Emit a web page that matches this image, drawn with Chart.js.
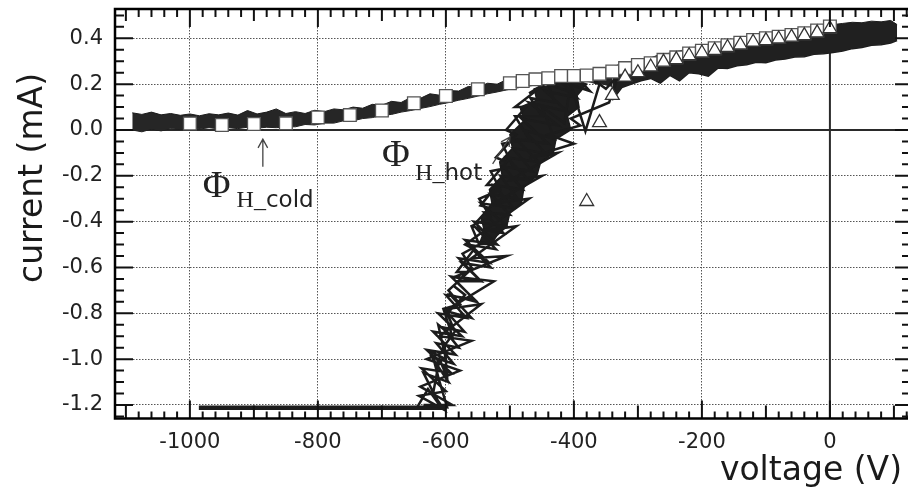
<!DOCTYPE html>
<html>
<head>
<meta charset="utf-8">
<script src="https://cdn.jsdelivr.net/npm/chart.js@4.4.1/dist/chart.umd.min.js"></script>
<style>
  html, body { margin: 0; padding: 0; background: #fff; }
  #wrap { width: 908px; height: 492px; }
</style>
</head>
<body>
<div id="wrap"><canvas id="chart" width="908" height="492"></canvas></div>
<script>
// tick labels
const xTicks = [-1000, -800, -600, -400, -200, 0];
const yTicks = [-1.2, -1.0, -0.8, -0.6, -0.4, -0.2, 0.0, 0.2, 0.4];

// open squares
const squaresX = [-1000, -950, -900, -850, -800, -750, -700, -650, -600, -550, -500, -480, -460, -440, -420, -400, -380, -360,
  -340, -320, -300, -280, -260, -240, -220, -200, -180, -160, -140, -120, -100, -80, -60, -40, -20, 0];
const squaresY = [0.028, 0.022, 0.026, 0.029, 0.055, 0.065, 0.085, 0.117, 0.148, 0.178, 0.204, 0.214, 0.221, 0.226, 0.236, 0.236, 0.238, 0.245,
  0.255, 0.27, 0.284, 0.291, 0.306, 0.317, 0.334, 0.346, 0.357, 0.37, 0.381, 0.393, 0.4, 0.407, 0.415, 0.422, 0.434, 0.452];

// open triangles
const trianglesX = [-380, -360, -340, -320, -300, -280, -260, -240, -220, -200, -180, -160, -140, -120, -100, -80, -60, -40, -20, 0];
const trianglesY = [-0.312, 0.032, 0.151, 0.231, 0.25, 0.275, 0.296, 0.307, 0.324, 0.336, 0.347, 0.36, 0.371, 0.383, 0.39, 0.397, 0.405, 0.412, 0.424, 0.442];

// cold trace, noisy band (upper / lower edge)
const coldBandX = [-1090, -1075, -1060, -1045, -1030, -1015, -1000, -985, -970, -955, -940, -925, -910, -895, -880, -865, -850,
  -835, -820, -805, -790, -775, -760, -745, -730, -715, -700, -685, -670, -655, -640, -625, -610, -595, -580, -565, -550,
  -535, -520, -505, -490, -475, -460, -445, -430, -415, -400, -385, -370, -355, -340];
const coldBandTop = [0.075, 0.068, 0.078, 0.066, 0.072, 0.064, 0.07, 0.062, 0.071, 0.066, 0.074, 0.065, 0.085, 0.07, 0.078, 0.092, 0.072,
  0.08, 0.072, 0.086, 0.08, 0.092, 0.088, 0.1, 0.095, 0.112, 0.108, 0.125, 0.12, 0.142, 0.138, 0.158, 0.152, 0.172, 0.17, 0.19, 0.186,
  0.204, 0.2, 0.22, 0.218, 0.232, 0.228, 0.24, 0.236, 0.248, 0.246, 0.254, 0.252, 0.264, 0.266];
const coldBandBottom = [0.0, -0.008, 0.004, -0.004, 0.006, 0.002, 0.008, 0.004, 0.01, 0.005, 0.01, 0.006, 0.012, 0.008, 0.012, 0.01, 0.014,
  0.014, 0.024, 0.022, 0.03, 0.03, 0.04, 0.04, 0.05, 0.054, 0.064, 0.068, 0.078, 0.085, 0.094, 0.102, 0.112, 0.12, 0.13, 0.138, 0.148,
  0.158, 0.166, 0.175, 0.183, 0.19, 0.196, 0.202, 0.207, 0.211, 0.214, 0.217, 0.214, 0.2, 0.19];

// both traces overlap on the right: dense band
const rightBandX = [-340, -325, -310, -295, -280, -265, -250, -235, -220, -205, -190, -175, -160, -145, -130, -115, -100,
  -85, -70, -55, -40, -25, -10, 5, 20, 35, 50, 65, 80, 95, 105];
const rightBandTop = [0.275, 0.29, 0.3, 0.31, 0.315, 0.33, 0.335, 0.345, 0.355, 0.365, 0.37, 0.38, 0.39, 0.395, 0.405, 0.41, 0.415,
  0.42, 0.43, 0.435, 0.44, 0.445, 0.455, 0.46, 0.465, 0.47, 0.468, 0.475, 0.472, 0.478, 0.46];
const rightBandBottom = [0.13, 0.185, 0.2, 0.215, 0.225, 0.205, 0.238, 0.215, 0.25, 0.245, 0.235, 0.27, 0.268, 0.28, 0.285, 0.296, 0.294,
  0.305, 0.31, 0.318, 0.32, 0.33, 0.333, 0.338, 0.345, 0.355, 0.36, 0.37, 0.372, 0.38, 0.39];

// hot trace: saturated part, dense core of the rise and its scribble
const hotFlatX = [-986, -600];
const hotFlatY = [-1.212, -1.212];
const hotCoreX = [-548, -540, -545, -528, -532, -512, -516, -496, -500, -478, -484, -458, -462, -430, -410,
  -380, -395, -392, -410, -405, -428, -432, -452, -458, -478, -482, -500, -505, -520, -530, -548];
const hotCoreY = [-0.5, -0.44, -0.38, -0.32, -0.26, -0.2, -0.14, -0.08, -0.02, 0.04, 0.1, 0.13, 0.18, 0.2, 0.23,
  0.2, 0.15, 0.1, 0.06, 0.0, -0.04, -0.1, -0.14, -0.2, -0.25, -0.32, -0.36, -0.42, -0.46, -0.5, -0.5];
const hotX = [
  -645, -628, -610, -635, -596, -622, -588, -615, -580, -606, -571, -600, -560, -593, -552, -584, -545, -575, -530, -566, -522,
  -552, -510, -540, -500, -530, -488, -515, -470, -505, -455, -490, -440, -482, -425, -470, -410, -445, -395, -420, -375, -395, -360,
  -382, -405, -415, -450, -430, -478, -445, -495, -465, -510, -480, -525, -495, -545, -505, -556, -520, -570, -532, -580, -545,
  -592, -555, -600, -568, -612, -575, -620, -585, -630, -592, -638, -600, -642, -603,
  -620, -610, -598, -602, -586, -598, -570, -588, -560, -574, -548, -560, -530, -548, -515, -530, -495, -512, -470, -492, -450,
  -468, -430, -440, -400, -410, -370, -350, -330,
  -345, -405, -390, -440, -400, -470, -425, -500, -450, -525, -470, -540, -490, -560, -505, -585, -525, -595, -545, -610, -560,
  -630, -578, -640, -590, -635, -598,
  -615, -608, -622, -600, -612, -590, -604, -578, -596, -565, -583, -556, -570, -540, -558, -532, -546, -520, -536, -505, -522,
  -490, -506, -475, -492, -455, -470, -430, -445, -405];
const hotY = [
  -1.21, -1.13, -1.2, -1.06, -1.1, -0.99, -1.02, -0.93, -0.95, -0.86, -0.88, -0.79, -0.82, -0.72, -0.75, -0.66, -0.66, -0.58, -0.6, -0.5, -0.52,
  -0.43, -0.45, -0.36, -0.37, -0.28, -0.3, -0.2, -0.22, -0.12, -0.14, -0.04, -0.06, 0.05, 0.02, 0.12, 0.08, 0.17, 0.14, 0.21, 0.17, 0.23, 0.2,
  -0.005, 0.2, 0.03, 0.1, -0.04, 0.0, -0.1, -0.08, -0.18, -0.16, -0.26, -0.24, -0.34, -0.32, -0.42, -0.4, -0.5, -0.48, -0.58, -0.56, -0.66,
  -0.64, -0.74, -0.72, -0.82, -0.8, -0.9, -0.88, -0.98, -0.96, -1.06, -1.04, -1.14, -1.16, -1.22,
  -1.15, -1.0, -1.08, -0.94, -0.88, -0.8, -0.72, -0.68, -0.6, -0.54, -0.5, -0.42, -0.38, -0.3, -0.26, -0.18, -0.16, -0.06, -0.04, 0.06, 0.06,
  0.14, 0.12, 0.2, 0.16, 0.23, 0.22, 0.18, 0.24,
  0.12, 0.05, 0.02, -0.02, -0.06, -0.12, -0.1, -0.22, -0.2, -0.32, -0.3, -0.44, -0.42, -0.56, -0.55, -0.64, -0.66, -0.78, -0.76, -0.9, -0.92,
  -1.0, -1.05, -1.12, -1.2, -1.2, -1.21,
  -1.05, -1.12, -0.97, -1.0, -0.85, -0.9, -0.78, -0.76, -0.7, -0.62, -0.62, -0.52, -0.5, -0.44, -0.42, -0.34, -0.33, -0.24, -0.24, -0.14,
  -0.12, -0.02, 0.0, 0.1, 0.1, 0.18, 0.16, 0.23, 0.2];

// reference lines through the origin
const zeroHX = [-1117, 122];
const zeroHY = [0, 0];
const zeroVX = [0, 0];
const zeroVY = [-1.259, 0.34];

// labels in the plot (data coordinates)
const phiLabels = [
  { x: -980, y: -0.292, subX: -927, subY: -0.336, sub: 'cold' },
  { x: -700, y: -0.157, subX: -648, subY: -0.218, sub: 'hot' }
];
const arrows = [
  { x0: -886, y0: -0.16, x1: -886, y1: -0.04 },
  { x0: -527, y0: -0.148, x1: -500, y1: -0.031 }
];

const pts = (xs, ys) => xs.map((x, i) => ({ x: x, y: ys[i] }));
const INK = '#1c1c1c';

const lineSet = (xs, ys, width, extra) => Object.assign({
  data: pts(xs, ys),
  showLine: true,
  borderColor: INK,
  borderWidth: width,
  pointRadius: 0,
  tension: 0,
  fill: false
}, extra || {});

const noPad = s => { s.paddingTop = 0; s.paddingBottom = 0; s.paddingLeft = 0; s.paddingRight = 0; };

const frameAndText = {
  id: 'frameAndText',
  afterDraw(chart) {
    const { ctx, chartArea: a, scales: { x, y } } = chart;
    ctx.save();

    // inward tick marks on all four sides
    ctx.strokeStyle = '#111';
    ctx.lineWidth = 2;
    ctx.beginPath();
    for (let k = -55; k <= 6; k++) {
      const px = x.getPixelForValue(k * 20);
      if (px < a.left || px > a.right) continue;
      const major = k % 10 === 0, mid = k % 5 === 0;
      const lb = major ? 18 : mid ? 13 : 7;
      const lt = major ? 18 : mid ? 12 : 8;
      ctx.moveTo(px, a.bottom); ctx.lineTo(px, a.bottom - lb);
      ctx.moveTo(px, a.top); ctx.lineTo(px, a.top + lt);
    }
    for (let k = -25; k <= 10; k++) {
      const py = y.getPixelForValue(k * 0.05);
      if (py < a.top || py > a.bottom) continue;
      const major = k % 4 === 0;
      ctx.moveTo(a.left, py); ctx.lineTo(a.left + (major ? 18 : 9), py);
      ctx.moveTo(a.right, py); ctx.lineTo(a.right - (major ? 13 : 6), py);
    }
    ctx.stroke();

    // frame (right side falls off the picture)
    ctx.lineWidth = 2.5;
    ctx.strokeStyle = '#000';
    ctx.beginPath();
    ctx.moveTo(a.right, a.top);
    ctx.lineTo(a.left, a.top);
    ctx.lineTo(a.left, a.bottom);
    ctx.lineTo(a.right, a.bottom);
    ctx.stroke();

    // axis titles
    ctx.fillStyle = '#1a1a1a';
    ctx.font = '33px "DejaVu Sans"';
    ctx.textBaseline = 'alphabetic';
    ctx.textAlign = 'right';
    ctx.fillText('voltage (V)', 902, 480);
    ctx.save();
    ctx.translate(42, 178);
    ctx.rotate(-Math.PI / 2);
    ctx.textAlign = 'center';
    ctx.fillText('current (mA)', 0, 0);
    ctx.restore();

    // Φ labels
    ctx.textAlign = 'left';
    phiLabels.forEach(l => {
      ctx.fillStyle = '#222';
      ctx.font = '38px "Liberation Serif"';
      ctx.fillText('Φ', x.getPixelForValue(l.x), y.getPixelForValue(l.y));
      const sx = x.getPixelForValue(l.subX), sy = y.getPixelForValue(l.subY);
      ctx.font = '24px "Liberation Serif"';
      ctx.fillText('H_', sx, sy);
      const w = ctx.measureText('H_').width;
      ctx.font = '23px "DejaVu Sans"';
      ctx.fillText(l.sub, sx + w, sy);
    });

    // arrows
    ctx.strokeStyle = '#444';
    ctx.lineWidth = 1.3;
    arrows.forEach(r => {
      const x0 = x.getPixelForValue(r.x0), y0 = y.getPixelForValue(r.y0);
      const x1 = x.getPixelForValue(r.x1), y1 = y.getPixelForValue(r.y1);
      const ang = Math.atan2(y1 - y0, x1 - x0);
      ctx.beginPath();
      ctx.moveTo(x0, y0); ctx.lineTo(x1, y1);
      ctx.moveTo(x1 - 10 * Math.cos(ang - 0.5), y1 - 10 * Math.sin(ang - 0.5));
      ctx.lineTo(x1, y1);
      ctx.lineTo(x1 - 10 * Math.cos(ang + 0.5), y1 - 10 * Math.sin(ang + 0.5));
      ctx.stroke();
    });
    ctx.restore();
  }
};

new Chart(document.getElementById('chart'), {
  type: 'scatter',
  data: {
    datasets: [
      {
        data: pts(trianglesX, trianglesY),
        pointStyle: 'triangle',
        pointRadius: 8,
        pointBackgroundColor: '#fff',
        pointBorderColor: '#333',
        pointBorderWidth: 1.3
      },
      {
        data: pts(squaresX, squaresY),
        pointStyle: 'rect',
        pointRadius: 9,
        pointBackgroundColor: '#fff',
        pointBorderColor: '#555',
        pointBorderWidth: 1.3
      },
      lineSet(hotX, hotY, 2.5, { borderJoinStyle: 'miter' }),
      lineSet(hotCoreX, hotCoreY, 1.5, { fill: 'shape', backgroundColor: '#1e1e1e', borderJoinStyle: 'miter' }),
      lineSet(hotFlatX, hotFlatY, 4.5),
      lineSet(rightBandX, rightBandTop, 1, { fill: '+1', backgroundColor: '#202020' }),
      lineSet(rightBandX, rightBandBottom, 1.5, { borderJoinStyle: 'miter' }),
      lineSet(coldBandX, coldBandTop, 1, { fill: '+1', backgroundColor: '#262626' }),
      lineSet(coldBandX, coldBandBottom, 1),
      lineSet(zeroHX, zeroHY, 2, { borderColor: '#2a2a2a' }),
      lineSet(zeroVX, zeroVY, 2, { borderColor: '#2a2a2a' })
    ]
  },
  options: {
    responsive: false,
    animation: false,
    devicePixelRatio: 1,
    events: [],
    layout: { autoPadding: false, padding: { top: 9, right: 0, left: 0, bottom: 0 } },
    plugins: {
      legend: { display: false },
      tooltip: { enabled: false }
    },
    scales: {
      x: {
        type: 'linear',
        min: -1117,
        max: 122,
        afterBuildTicks: s => { s.ticks = xTicks.map(v => ({ value: v })); },
        afterFit: s => { s.height = 73.5; noPad(s); },
        grid: { color: '#555', lineWidth: 1, drawTicks: false },
        border: { display: false, dash: [1.5, 1.5] },
        ticks: {
          autoSkip: false,
          maxRotation: 0,
          padding: 11,
          color: '#222',
          font: { family: 'DejaVu Sans', size: 21 },
          callback: v => String(v)
        }
      },
      y: {
        type: 'linear',
        min: -1.259,
        max: 0.528,
        afterBuildTicks: s => { s.ticks = yTicks.map(v => ({ value: v })); },
        afterFit: s => { s.width = 115; noPad(s); },
        grid: { color: '#555', lineWidth: 1, drawTicks: false },
        border: { display: false, dash: [1.5, 1.5] },
        ticks: {
          autoSkip: false,
          padding: 12,
          color: '#222',
          font: { family: 'DejaVu Sans', size: 21 },
          callback: v => Number(v).toFixed(1)
        }
      }
    }
  },
  plugins: [frameAndText]
});
</script>
</body>
</html>
